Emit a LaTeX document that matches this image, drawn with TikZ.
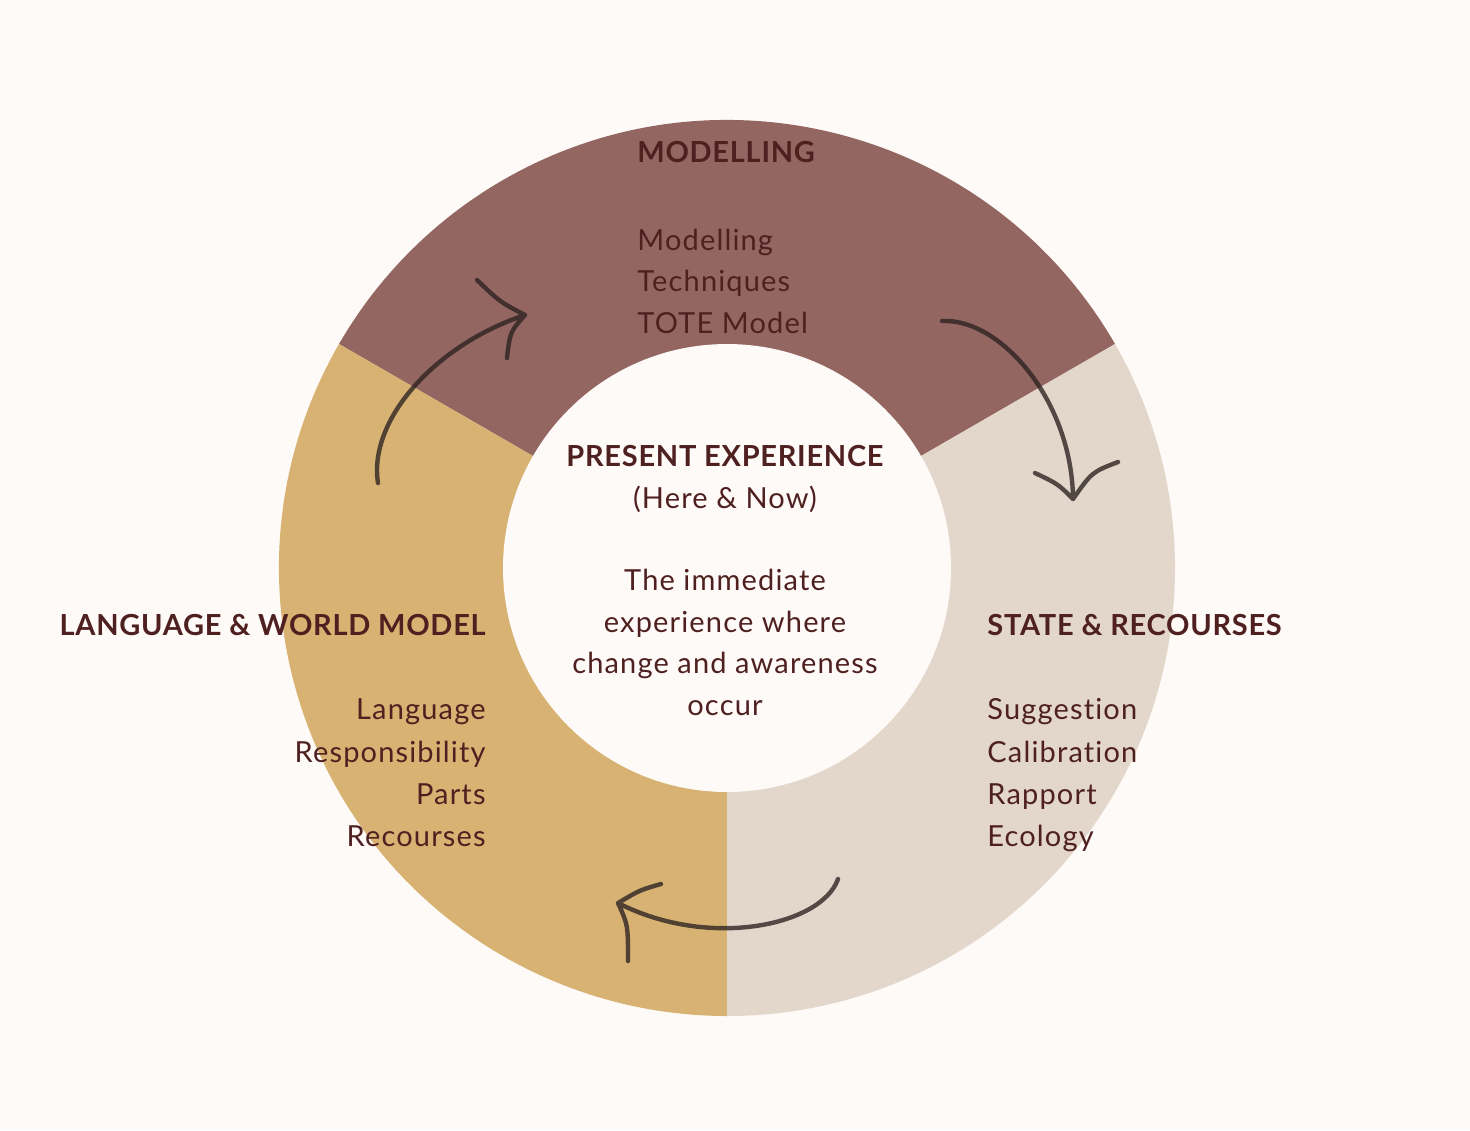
\documentclass[tikz,border=0pt]{standalone}
\usepackage{fontspec}
\setmainfont{Lato}[Ligatures=NoCommon, LetterSpace=4, BoldFeatures={LetterSpace=2.5}]
\usetikzlibrary{calc}
\definecolor{bg}{HTML}{FEFAF7}
\definecolor{mauve}{HTML}{936662}
\definecolor{gold}{HTML}{D8B272}
\definecolor{sand}{HTML}{E3D7CB}
\definecolor{ink}{HTML}{4F2020}
\definecolor{arrowink}{HTML}{2A2220}
\begin{document}
\begin{tikzpicture}[x=0.5pt,y=0.5pt,
  body/.style={font=\fontsize{14.5}{21}\selectfont, text=ink, inner sep=0pt},
  head/.style={font=\bfseries\fontsize{14.5}{21}\selectfont, text=ink, inner sep=0pt},
  sketch/.style={draw=arrowink, draw opacity=0.78, line width=2.2pt, line cap=round, line join=round}]
\fill[bg] (0,0) rectangle (1470,-1130);
\useasboundingbox (0,0) rectangle (1470,-1130);
\coordinate (c) at (727,-568);
% ring segments
\fill[mauve] (c) -- ++(30:448) arc[start angle=30,end angle=150,radius=448] -- cycle;
\fill[gold] (c) -- ++(150:448) arc[start angle=150,end angle=270,radius=448] -- cycle;
\fill[sand] (c) -- ++(-90:448) arc[start angle=-90,end angle=30,radius=448] -- cycle;
\fill[bg] (c) circle[radius=224];
% Modelling
\node[head, anchor=base west] (mh) at (637,-162) {MODELLING};
\node[body, anchor=base west] (m1) at (637,-250) {Modelling};
\node[body, anchor=base west] (m2) at (637,-291) {Techniques};
\node[body, anchor=base west] (m3) at (637,-333) {TOTE Model};
% centre
\node[head, anchor=base] (ph) at (725,-466) {PRESENT EXPERIENCE};
\node[body, anchor=base] (p1) at (725,-508) {(Here \& Now)};
\node[body, anchor=base] (p2) at (725,-590) {The immediate};
\node[body, anchor=base] (p3) at (725,-632) {experience where};
\node[body, anchor=base] (p4) at (725,-673) {change and awareness};
\node[body, anchor=base] (p5) at (725,-715) {occur};
% Language
\node[head, anchor=base east] (lh) at (486,-635) {LANGUAGE \& WORLD MODEL};
\node[body, anchor=base east] (l1) at (486,-719) {Language};
\node[body, anchor=base east] (l2) at (486,-762) {Responsibility};
\node[body, anchor=base east] (l3) at (486,-804) {Parts};
\node[body, anchor=base east] (l4) at (486,-846) {Recourses};
% State
\node[head, anchor=base west] (sh) at (987,-635) {STATE \& RECOURSES};
\node[body, anchor=base west] (s1) at (987,-719) {Suggestion};
\node[body, anchor=base west] (s2) at (987,-762) {Calibration};
\node[body, anchor=base west] (s3) at (987,-804) {Rapport};
\node[body, anchor=base west] (s4) at (987,-846) {Ecology};
% arrows
\coordinate (a1s) at (378,-483);
\coordinate (a1t) at (525,-315);
\coordinate (a1b1) at (477,-280);
\coordinate (a1b2) at (507,-358);
\draw[sketch] (a1s) .. controls (368,-420) and (435,-345) .. (a1t)
  (a1b1) .. controls (500,-302) .. (a1t) .. controls (510,-332) .. (a1b2);
\coordinate (a2s) at (942,-321);
\coordinate (a2t) at (1073,-499);
\coordinate (a2b1) at (1035,-473);
\coordinate (a2b2) at (1118,-462);
\draw[sketch] (a2s) .. controls (1000,-318) and (1072,-400) .. (a2t)
  (a2b1) .. controls (1058,-484) .. (a2t) .. controls (1092,-472) .. (a2b2);
\coordinate (a3s) at (838,-879);
\coordinate (a3t) at (618,-903);
\coordinate (a3b1) at (661,-884);
\coordinate (a3b2) at (628,-961);
\draw[sketch] (a3s) .. controls (822,-925) and (710,-950) .. (a3t)
  (a3b1) .. controls (640,-890) .. (a3t) .. controls (628,-925) .. (a3b2);
\end{tikzpicture}
\end{document}
